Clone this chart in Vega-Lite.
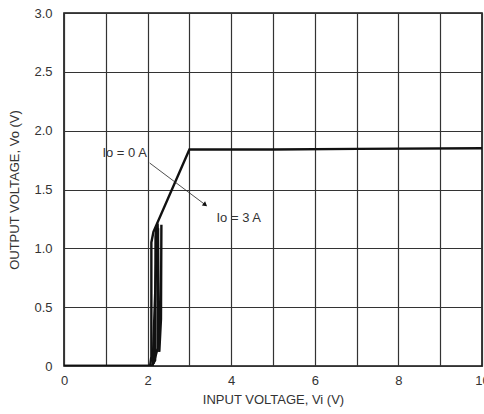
{
  "$schema": "https://vega.github.io/schema/vega-lite/v6.json",
  "autosize": "none",
  "width": 418,
  "height": 353,
  "padding": {"left": 64, "top": 13, "right": 2, "bottom": 48},
  "background": "white",
  "config": {
    "view": {"stroke": "#111", "strokeWidth": 1.6},
    "font": "Liberation Sans",
    "axis": {
      "gridColor": "#333",
      "gridWidth": 1.2,
      "gridOpacity": 1,
      "domain": false,
      "ticks": false,
      "labelFlush": false,
      "labelFont": "Liberation Sans",
      "labelFontSize": 13,
      "labelColor": "#333",
      "titleFont": "Liberation Sans",
      "titleFontSize": 13,
      "titleFontWeight": "normal",
      "titleColor": "#333"
    }
  },
  "datasets": {
    "curves": [
      {"trace": "a", "vi": 0, "vo": 0},
      {"trace": "a", "vi": 2.06, "vo": 0},
      {"trace": "a", "vi": 2.09, "vo": 0.08},
      {"trace": "a", "vi": 2.09, "vo": 1.05},
      {"trace": "a", "vi": 2.14, "vo": 1.14},
      {"trace": "a", "vi": 3.0, "vo": 1.84},
      {"trace": "a", "vi": 5.0, "vo": 1.84},
      {"trace": "a", "vi": 7.0, "vo": 1.845},
      {"trace": "a", "vi": 10.0, "vo": 1.85},
      {"trace": "b", "vi": 0, "vo": 0},
      {"trace": "b", "vi": 2.1, "vo": 0},
      {"trace": "b", "vi": 2.18, "vo": 0.05},
      {"trace": "b", "vi": 2.19, "vo": 1.1},
      {"trace": "b", "vi": 2.21, "vo": 1.18},
      {"trace": "c", "vi": 2.12, "vo": 0},
      {"trace": "c", "vi": 2.28, "vo": 0.12},
      {"trace": "c", "vi": 2.32, "vo": 0.4},
      {"trace": "c", "vi": 2.33, "vo": 1.2},
      {"trace": "c", "vi": 2.24, "vo": 1.21},
      {"trace": "d", "vi": 2.14, "vo": 0.02},
      {"trace": "d", "vi": 2.24, "vo": 0.15},
      {"trace": "d", "vi": 2.25, "vo": 1.17}
    ],
    "pointer": [
      {"x": 2.05, "y": 1.725, "x2": 3.38, "y2": 1.37}
    ],
    "arrow": [
      {"x": 3.38, "y": 1.37}
    ],
    "labels": [
      {"x": 1.45, "y": 1.81, "t": "Io = 0 A"},
      {"x": 4.18, "y": 1.26, "t": "Io = 3 A"}
    ]
  },
  "layer": [
    {
      "data": {"name": "curves"},
      "mark": {"type": "line", "color": "#111", "strokeWidth": 2.4, "clip": true},
      "encoding": {
        "x": {
          "field": "vi", "type": "quantitative",
          "scale": {"domain": [0, 10], "nice": false},
          "axis": {
            "title": "INPUT VOLTAGE, Vi (V)",
            "values": [0, 1, 2, 3, 4, 5, 6, 7, 8, 9, 10],
            "labelExpr": "datum.value % 2 == 0 ? format(datum.value, 'd') : ''",
            "labelPadding": 8,
            "titlePadding": 6
          }
        },
        "y": {
          "field": "vo", "type": "quantitative",
          "scale": {"domain": [0, 3], "nice": false},
          "axis": {
            "title": "OUTPUT VOLTAGE, Vo (V)",
            "values": [0, 0.5, 1, 1.5, 2, 2.5, 3],
            "labelExpr": "datum.value == 0 ? '0' : format(datum.value, '.1f')",
            "labelPadding": 12,
            "titlePadding": 12
          }
        },
        "detail": {"field": "trace"}
      }
    },
    {
      "data": {"name": "pointer"},
      "mark": {"type": "rule", "color": "#222", "strokeWidth": 0.8},
      "encoding": {
        "x": {"field": "x", "type": "quantitative"},
        "y": {"field": "y", "type": "quantitative"},
        "x2": {"field": "x2"},
        "y2": {"field": "y2"}
      }
    },
    {
      "data": {"name": "arrow"},
      "mark": {"type": "point", "shape": "triangle-right", "filled": true, "color": "#111", "size": 28, "angle": 38, "opacity": 1},
      "encoding": {
        "x": {"field": "x", "type": "quantitative"},
        "y": {"field": "y", "type": "quantitative"}
      }
    },
    {
      "data": {"name": "labels"},
      "mark": {"type": "text", "font": "Liberation Sans", "fontSize": 13, "color": "#333"},
      "encoding": {
        "x": {"field": "x", "type": "quantitative"},
        "y": {"field": "y", "type": "quantitative"},
        "text": {"field": "t"}
      }
    }
  ]
}
